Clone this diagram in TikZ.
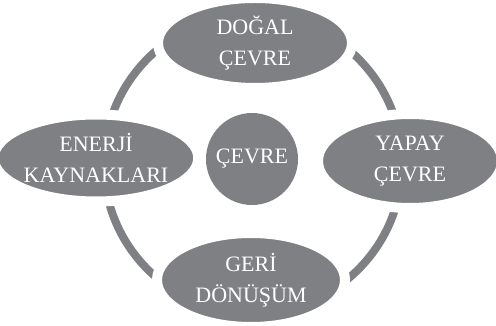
\documentclass[tikz,border=0pt]{standalone}
\usepackage{fontspec}
\setmainfont{Liberation Serif}
\usetikzlibrary{shapes.geometric}
\definecolor{cgray}{RGB}{127,128,132}
\begin{document}
\begin{tikzpicture}[x=1pt,y=1pt,
  blob/.style={ellipse, fill=cgray, draw=white, line width=10pt, inner sep=0pt,
    text=white, align=center, font=\fontsize{22}{31}\selectfont},
  hub/.style={circle, fill=cgray, inner sep=0pt, minimum size=92pt,
    text=white, font=\fontsize{22}{31}\selectfont},
  ring/.style={draw=cgray, line width=8pt}]
\useasboundingbox (0,0) rectangle (496,326);
\coordinate (o) at (253,162);
\draw[ring] (o) circle (149);
\node[blob, minimum width=194pt, minimum height=90pt] (dogal) at (255,283) {DOĞAL\\ÇEVRE};
\node[blob, minimum width=191pt, minimum height=87pt] (enerji) at (96,168) {ENERJİ\\KAYNAKLARI};
\node[blob, minimum width=184pt, minimum height=94pt] (yapay) at (410,165) {YAPAY\\ÇEVRE};
\node[blob, minimum width=188pt, minimum height=94pt] (geri) at (251,46) {GERİ\\DÖNÜŞÜM};
\node[hub] (cevre) at (252,167) {ÇEVRE};
\end{tikzpicture}
\end{document}
